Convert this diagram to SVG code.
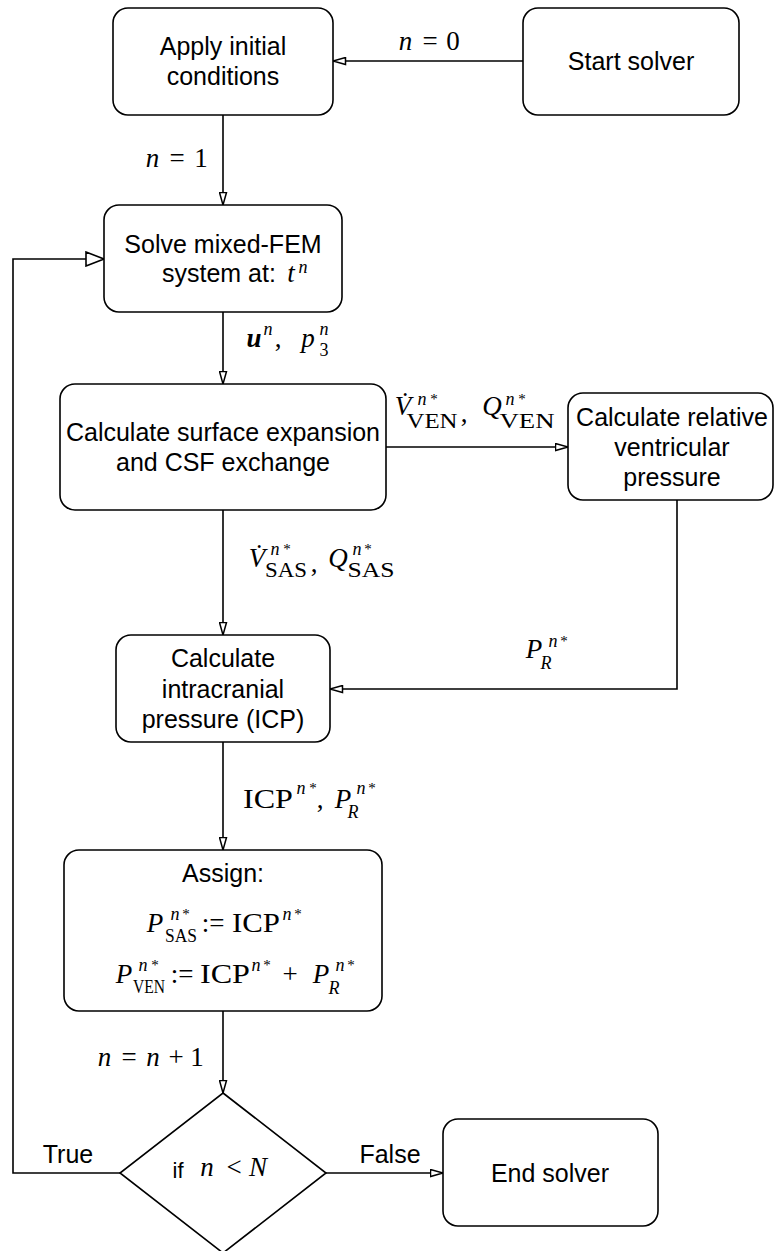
<svg xmlns="http://www.w3.org/2000/svg" width="775" height="1251" viewBox="0 0 775 1251">
<style>
.box{fill:#fff;stroke:#000;stroke-width:1.6}
.ln{fill:none;stroke:#000;stroke-width:1.6}
.s{font-family:"Liberation Sans",Arial,sans-serif;font-size:25px;text-anchor:middle;fill:#000}
.m{font-family:"Liberation Serif","Times New Roman",serif;font-size:27px;text-anchor:middle;fill:#000}
.i{font-style:italic}
.bi{font-style:italic;font-weight:bold}
.sup{font-size:18px;font-style:italic}
.ast{font-size:15px;font-style:normal}
.sub{font-size:21px;font-style:normal}
.sub2{font-size:18px}
</style>
<defs>
<marker id="a" markerUnits="userSpaceOnUse" viewBox="0 0 14 9" refX="13.5" refY="4.5" markerWidth="14" markerHeight="9" orient="auto">
<path d="M1,1 L13.5,4.5 L1,8 Z" fill="#fff" stroke="#000" stroke-width="1.5"/>
</marker>
<marker id="A" markerUnits="userSpaceOnUse" viewBox="0 0 20 16" refX="19" refY="8" markerWidth="20" markerHeight="16" orient="auto">
<path d="M1,1 L19,8 L1,15 Z" fill="#fff" stroke="#000" stroke-width="1.6"/>
</marker>
</defs>

<g id="connectors">
<path class="ln" d="M523,61 H333" marker-end="url(#a)"/>
<path class="ln" d="M223,115 V205" marker-end="url(#a)"/>
<path class="ln" d="M223,312 V384" marker-end="url(#a)"/>
<path class="ln" d="M386,447 H568" marker-end="url(#a)"/>
<path class="ln" d="M223,510 V635" marker-end="url(#a)"/>
<path class="ln" d="M677,500 V689 H330" marker-end="url(#a)"/>
<path class="ln" d="M223,742 V850" marker-end="url(#a)"/>
<path class="ln" d="M223,1011 V1093" marker-end="url(#a)"/>
<path class="ln" d="M120,1173 H13 V259 H104" marker-end="url(#A)"/>
<path class="ln" d="M326,1173 H443" marker-end="url(#a)"/>

<text id="lbl-n0" class="m"><tspan x="405.5" y="50" class="i">n</tspan><tspan x="430" y="50">=</tspan><tspan x="453" y="50">0</tspan></text>
<text id="lbl-n1" class="m"><tspan x="152.5" y="167" class="i">n</tspan><tspan x="177" y="167">=</tspan><tspan x="201" y="167">1</tspan></text>
<text id="lbl-up" class="m"><tspan x="254" y="347" class="bi">u</tspan><tspan x="268" y="335" class="sup">n</tspan><tspan x="278" y="347">,</tspan><tspan x="308" y="347" class="i">p</tspan><tspan x="324" y="335" class="sup">n</tspan><tspan x="324" y="356" class="sub2">3</tspan></text>
<text id="lbl-ven" class="m"><tspan x="403" y="415" class="i">V̇</tspan><tspan x="422" y="405" class="sup">n</tspan><tspan x="434" y="404" class="ast">*</tspan><tspan x="432" y="428" class="sub" textLength="51" lengthAdjust="spacingAndGlyphs">VEN</tspan><tspan x="464" y="422">,</tspan><tspan x="492" y="415" class="i">Q</tspan><tspan x="510" y="405" class="sup">n</tspan><tspan x="522" y="404" class="ast">*</tspan><tspan x="527" y="428" class="sub" textLength="55" lengthAdjust="spacingAndGlyphs">VEN</tspan></text>
<text id="lbl-sas" class="m"><tspan x="257" y="567" class="i">V̇</tspan><tspan x="275" y="555" class="sup">n</tspan><tspan x="287" y="554" class="ast">*</tspan><tspan x="286" y="577" class="sub" textLength="42" lengthAdjust="spacingAndGlyphs">SAS</tspan><tspan x="314" y="572">,</tspan><tspan x="338" y="567" class="i">Q</tspan><tspan x="357" y="555" class="sup">n</tspan><tspan x="368" y="554" class="ast">*</tspan><tspan x="371" y="577" class="sub" textLength="47" lengthAdjust="spacingAndGlyphs">SAS</tspan></text>
<text id="lbl-pr" class="m"><tspan x="534" y="658" class="i">P</tspan><tspan x="553" y="647" class="sup">n</tspan><tspan x="564" y="646" class="ast">*</tspan><tspan x="546" y="669" class="sub2 i">R</tspan></text>
<text id="lbl-icp" class="m"><tspan x="268" y="808" textLength="50" lengthAdjust="spacingAndGlyphs">ICP</tspan><tspan x="301" y="794" class="sup">n</tspan><tspan x="313" y="793" class="ast">*</tspan><tspan x="320" y="808">,</tspan><tspan x="343" y="808" class="i">P</tspan><tspan x="361" y="794" class="sup">n</tspan><tspan x="372" y="793" class="ast">*</tspan><tspan x="353" y="818" class="sub2 i">R</tspan></text>
<text id="lbl-nn1" class="m"><tspan x="104.5" y="1066" class="i">n</tspan><tspan x="129" y="1066">=</tspan><tspan x="153" y="1066" class="i">n</tspan><tspan x="176" y="1066">+</tspan><tspan x="197" y="1066">1</tspan></text>
<text class="s" x="68" y="1163">True</text>
<text class="s" x="390" y="1163">False</text>
</g>

<g id="apply">
<rect class="box" x="113" y="8" width="220" height="107" rx="15"/>
<text class="s" x="223" y="55">Apply initial</text>
<text class="s" x="223" y="85">conditions</text>
</g>
<g id="start">
<rect class="box" x="523" y="8" width="216" height="107" rx="15"/>
<text class="s" x="631" y="70">Start solver</text>
</g>
<g id="solve">
<rect class="box" x="104" y="205" width="238" height="107" rx="15"/>
<text class="s" x="223" y="253">Solve mixed-FEM</text>
<text class="s" x="162" y="282" style="text-anchor:start">system at:</text>
<text class="m"><tspan x="291" y="282" class="i">t</tspan><tspan x="303" y="273" class="sup">n</tspan></text>
</g>
<g id="surface">
<rect class="box" x="60" y="384" width="326" height="126" rx="15"/>
<text class="s" x="223" y="441">Calculate surface expansion</text>
<text class="s" x="223" y="471">and CSF exchange</text>
</g>
<g id="relative">
<rect class="box" x="568" y="393" width="205" height="107" rx="15"/>
<text class="s" x="672" y="426">Calculate relative</text>
<text class="s" x="672" y="456">ventricular</text>
<text class="s" x="672" y="486">pressure</text>
</g>
<g id="icp">
<rect class="box" x="116" y="635" width="214" height="107" rx="15"/>
<text class="s" x="223" y="667">Calculate</text>
<text class="s" x="223" y="698">intracranial</text>
<text class="s" x="223" y="728">pressure (ICP)</text>
</g>
<g id="assign">
<rect class="box" x="64" y="850" width="318" height="161" rx="15"/>
<text class="s" x="223" y="882">Assign:</text>
<text class="m"><tspan x="155" y="932" class="i">P</tspan><tspan x="175" y="920" class="sup">n</tspan><tspan x="186" y="919" class="ast">*</tspan><tspan x="181" y="942" class="sub2" textLength="32" lengthAdjust="spacingAndGlyphs">SAS</tspan><tspan x="213" y="932">:=</tspan><tspan x="256" y="932" textLength="48" lengthAdjust="spacingAndGlyphs">ICP</tspan><tspan x="287" y="920" class="sup">n</tspan><tspan x="298" y="919" class="ast">*</tspan></text>
<text class="m"><tspan x="124" y="983" class="i">P</tspan><tspan x="143" y="971" class="sup">n</tspan><tspan x="155" y="970" class="ast">*</tspan><tspan x="149" y="993" class="sub2" textLength="32" lengthAdjust="spacingAndGlyphs">VEN</tspan><tspan x="182" y="983">:=</tspan><tspan x="225" y="983" textLength="50" lengthAdjust="spacingAndGlyphs">ICP</tspan><tspan x="256" y="971" class="sup">n</tspan><tspan x="267" y="970" class="ast">*</tspan><tspan x="290" y="983">+</tspan><tspan x="321" y="983" class="i">P</tspan><tspan x="340" y="971" class="sup">n</tspan><tspan x="351" y="970" class="ast">*</tspan><tspan x="334" y="994" class="sub2 i">R</tspan></text>
</g>
<g id="decision">
<polygon class="box" points="223,1093 326,1173 223,1253 120,1173"/>
<text class="s" x="178" y="1178" style="font-size:22px">if</text>
<text class="m"><tspan x="207" y="1176" class="i">n</tspan><tspan x="234" y="1176">&lt;</tspan><tspan x="258" y="1176" class="i">N</tspan></text>
</g>
<g id="end">
<rect class="box" x="443" y="1119" width="215" height="107" rx="15"/>
<text class="s" x="550" y="1182">End solver</text>
</g>
</svg>
